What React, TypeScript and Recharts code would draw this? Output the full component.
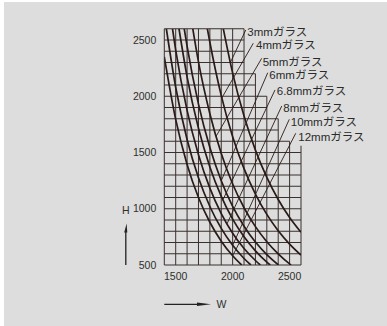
import React from 'react';
import { LineChart, Line, XAxis, YAxis, ReferenceLine, ReferenceDot } from 'recharts';

// axis ticks
const W_TICKS = [1500, 2000, 2500];
const H_TICKS = [500, 1000, 1500, 2000, 2500];

// stepped grid envelope
const GRID_W = [1400, 1500, 1600, 1700, 1800, 1900, 2000, 2100, 2200, 2300, 2400, 2500, 2600];
const GRID_W_TOP = [2600, 2600, 2600, 2600, 2600, 2600, 2600, 2600, 2200, 2000, 1800, 1600, 1560];
const GRID_H = [500, 600, 700, 800, 900, 1000, 1100, 1200, 1300, 1400, 1500, 1600, 1700, 1800, 1900, 2000, 2100, 2200, 2300, 2400, 2500, 2600];
const GRID_H_END = [2600, 2600, 2600, 2600, 2600, 2600, 2600, 2600, 2600, 2600, 2600, 2500, 2400, 2400, 2300, 2300, 2200, 2200, 2100, 2100, 2100, 2100];

// curves (W, H)
const glass3 = [[1918, 2600], [2000, 2206], [2100, 1824], [2200, 1521], [2300, 1278], [2400, 1082], [2500, 922], [2600, 791]];
const glass4 = [[1778, 2600], [1800, 2480], [1900, 2006], [2000, 1641], [2100, 1357], [2200, 1131], [2300, 950], [2400, 805], [2500, 686], [2600, 588]];
const glass5 = [[1650, 2600], [1700, 2305], [1800, 1845], [1900, 1492], [2000, 1220], [2100, 1009], [2200, 841], [2300, 707], [2400, 599], [2500, 510], [2513, 500]];
const glass6 = [[1575, 2600], [1600, 2445], [1700, 1930], [1800, 1544], [1900, 1249], [2000, 1021], [2100, 845], [2200, 704], [2300, 592], [2402, 500]];
const glass68 = [[1529, 2600], [1600, 2173], [1700, 1715], [1800, 1372], [1900, 1110], [2000, 908], [2100, 751], [2200, 626], [2300, 526], [2330, 500]];
const glass8 = [[1472, 2600], [1500, 2411], [1600, 1874], [1700, 1480], [1800, 1183], [1900, 957], [2000, 783], [2100, 647], [2200, 540], [2243, 500]];
const glass10 = [[1418, 2600], [1500, 2080], [1600, 1616], [1700, 1275], [1800, 1020], [1900, 825], [2000, 675], [2100, 558], [2160, 500]];
const glass12 = [[1400, 2350], [1500, 1794], [1600, 1394], [1700, 1100], [1800, 880], [1900, 712], [2000, 582], [2079, 500]];

const LABELS = ['3mmガラス', '4mmガラス', '5mmガラス', '6mmガラス', '6.8mmガラス', '8mmガラス', '10mmガラス', '12mmガラス'];
const CURVES = [glass3, glass4, glass5, glass6, glass68, glass8, glass10, glass12];
// leader start (near label) and end (on curve)
const LEADER_START = [[2115, 2589], [2181, 2471], [2255, 2337], [2308, 2209], [2372, 2056], [2431, 1913], [2497, 1795], [2554, 1671]];
const LEADER_END = [[1980, 2300], [1905, 1985], [1855, 1645], [1900, 1249], [1915, 1080], [1950, 865], [2000, 675], [2000, 582]];
const LABEL_POS = [[2129, 2568], [2205, 2456], [2264, 2307], [2322, 2189], [2387, 2049], [2445, 1893], [2510, 1775], [2576, 1640]];

const toPts = (arr: number[][]) => arr.map(([w, h]) => ({ w, h }));

const INK = '#2a1b19';
const GRID = '#3a302e';
const FONT = "'Liberation Sans', Arial, 'Noto Sans CJK JP', sans-serif";

export default function App() {
  return (
    <div style={{ position: 'absolute', left: 0, top: 0, width: 387, height: 326, background: '#ffffff' }}>
      <div style={{ position: 'absolute', left: 4, top: 2, width: 383, height: 324, background: '#dcdddc' }} />
      <div style={{ position: 'absolute', left: 0, top: 0 }}>
        <LineChart width={387} height={326} margin={{ top: 28.75, right: 86, bottom: 31, left: 104.3 }}>
          <XAxis
            dataKey="w"
            type="number"
            domain={[1400, 2600]}
            ticks={W_TICKS}
            axisLine={false}
            tickLine={false}
            height={30}
            tick={{ fontSize: 10.5, fill: '#2e2e2e', fontFamily: FONT }}
            allowDataOverflow
          />
          <YAxis
            dataKey="h"
            type="number"
            domain={[500, 2600]}
            ticks={H_TICKS}
            axisLine={false}
            tickLine={false}
            width={60}
            tick={{ fontSize: 10.5, fill: '#2e2e2e', fontFamily: FONT }}
            allowDataOverflow
          />
          {GRID_W.map((w, i) => (
            <ReferenceLine key={'gw' + w} segment={[{ x: w, y: 500 }, { x: w, y: GRID_W_TOP[i] }]} stroke={GRID} strokeWidth={1} ifOverflow="visible" />
          ))}
          {GRID_H.map((h, i) => (
            <ReferenceLine key={'gh' + h} segment={[{ x: 1400, y: h }, { x: GRID_H_END[i], y: h }]} stroke={GRID} strokeWidth={1} ifOverflow="visible" />
          ))}
          {CURVES.map((c, i) => (
            <Line
              key={'c' + i}
              data={toPts(c)}
              dataKey="h"
              type="monotone"
              stroke={INK}
              strokeWidth={1.7}
              dot={false}
              activeDot={false}
              isAnimationActive={false}
            />
          ))}
          {LEADER_START.map((s, i) => (
            <ReferenceLine key={'ld' + i} segment={[{ x: s[0], y: s[1] }, { x: LEADER_END[i][0], y: LEADER_END[i][1] }]} stroke={INK} strokeWidth={0.9} ifOverflow="visible" />
          ))}
          {LABEL_POS.map((p, i) => (
            <ReferenceDot
              key={'lb' + i}
              x={p[0]}
              y={p[1]}
              r={0}
              fill="none"
              stroke="none"
              ifOverflow="visible"
              label={{ value: LABELS[i], position: 'right', offset: 0, fill: '#2a2a2a', fontSize: 11.5, fontFamily: FONT }}
            />
          ))}
        </LineChart>
      </div>
      <svg width={387} height={326} style={{ position: 'absolute', left: 0, top: 0, pointerEvents: 'none' }}>
        <line x1={125.8} y1={265} x2={125.8} y2={231} stroke="#222" strokeWidth={1.3} />
        <polygon points="124.2,232.5 126.6,223.5 127.3,232.5" fill="#222" />
        <text x={122} y={214} fontSize={10.5} fill="#2e2e2e" fontFamily={FONT}>H</text>
        <line x1={164.3} y1={304.3} x2={200} y2={304.3} stroke="#222" strokeWidth={1.3} />
        <polygon points="197,302.6 211,304.3 197,306" fill="#222" />
        <text x={216.5} y={308} fontSize={10.5} fill="#2e2e2e" fontFamily={FONT}>W</text>
      </svg>
    </div>
  );
}
